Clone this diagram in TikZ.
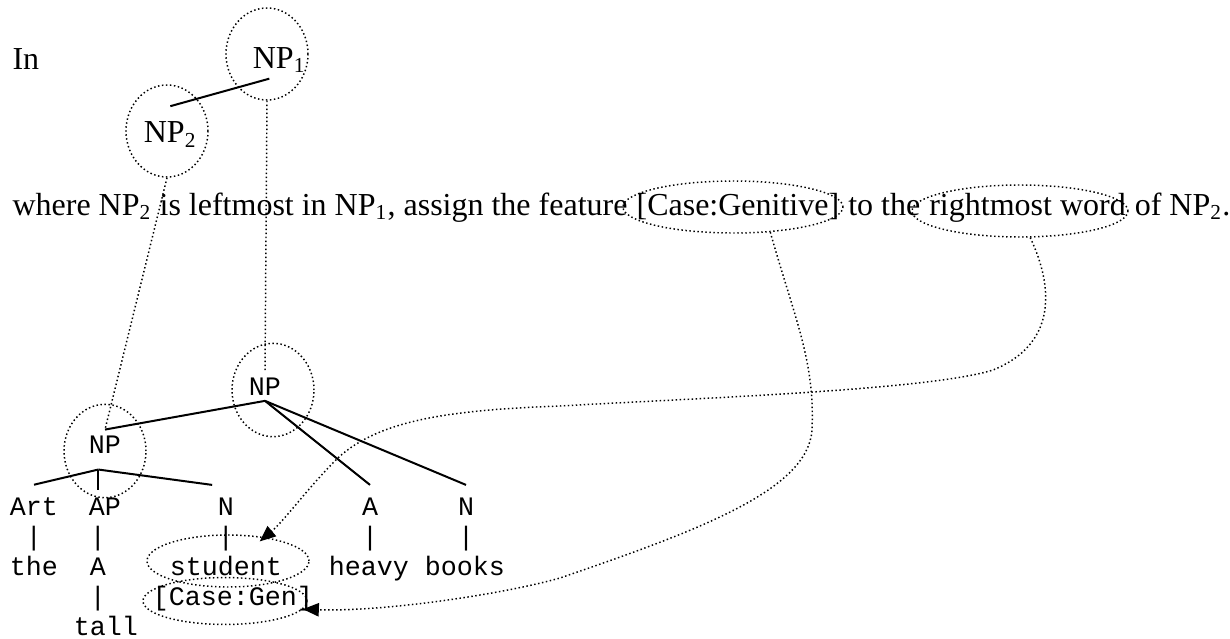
\documentclass[tikz,border=0pt]{standalone}
\usepackage{fontspec}
\setmainfont{Liberation Serif}
\setmonofont{Liberation Mono}
\usetikzlibrary{arrows.meta,positioning,shapes.geometric}
\tikzset{
  ringbox/.style={ellipse,draw,line width=0.55pt,dash pattern=on 0.55pt off 0.95pt,inner sep=0pt},
  treeline/.style={line width=0.75pt},
  dotflow/.style={line width=0.55pt,dash pattern=on 0.55pt off 0.95pt},
  featflow/.style={dotflow,-{Triangle[length=6pt,width=5pt]}},
  rmtext/.style={font=\fontsize{12}{14}\selectfont,inner sep=2pt,anchor=base west},
  inline/.style={rmtext,inner sep=0pt},
  catnode/.style={font=\ttfamily\fontsize{10}{11}\selectfont,inner sep=2pt,anchor=base},
  leafnode/.style={catnode,inner ysep=4.5pt}
}
\begin{document}
\begin{tikzpicture}[x=0.375pt,y=-0.375pt]
    \useasboundingbox (0,0) rectangle (1230,639);

    % rule: the two NPs
    \node[inline] (intro) at (12,69) {In};
    \node[rmtext] (np1) at (247,68) {NP\textsubscript{1}};
    \node[rmtext] (np2) at (138,143) {NP\textsubscript{2}};
    \node[ringbox,minimum width=30.75pt,minimum height=34.5pt] (ringNPone) at (267,54) {};
    \node[ringbox,minimum width=30.75pt,minimum height=34.5pt] (ringNPtwo) at (167,131) {};
    \draw[treeline] ([xshift=-3.75pt]np1.south) -- ([yshift=3.75pt]np2.north);

    % rule: the sentence
    \node[inline] (sentA) at (12,215)
      {where NP\textsubscript{2} is leftmost in NP\textsubscript{1}, assign the feature};
    \node[inline] (caseGen) at ([xshift=3pt]sentA.base east) {[Case:Genitive]};
    \node[inline] (sentB) at ([xshift=3pt]caseGen.base east) {to the};
    \node[inline] (rightWord) at ([xshift=3pt]sentB.base east) {rightmost word};
    \node[inline] (sentC) at ([xshift=3pt]rightWord.base east) {of NP\textsubscript{2}.};
    \node[ringbox,minimum width=82.5pt,minimum height=19.5pt] (ringCase) at (733,207) {};
    \node[ringbox,minimum width=81pt,minimum height=19.5pt] (ringRight) at (1020,211) {};

    % tree
    \node[catnode] (npUp) at (265,395) {NP};
    \node[catnode] (npLow) at (105,453) {NP};
    \node[ringbox,minimum width=30.75pt,minimum height=35pt] (ringUp) at (273,390) {};
    \node[ringbox,minimum width=30.75pt,minimum height=35pt] (ringLow) at (105,451) {};

    \node[leafnode] (catArt) at (34,515) {Art};
    \node[leafnode] (catAP) at (105,515) {AP};
    \node[leafnode] (catN) at (226,515) {N};
    \node[leafnode] (catA) at (370,515) {A};
    \node[leafnode] (catNb) at (466,515) {N};

    \node[catnode] (barArt) at (34,545) {|};
    \node[catnode] (barAP) at (98,545) {|};
    \node[catnode] (barN) at (226,545) {|};
    \node[catnode] (barA) at (370,545) {|};
    \node[catnode] (barNb) at (466,545) {|};

    \node[catnode] (wordThe) at (34,575) {the};
    \node[catnode] (wordA) at (98,575) {A};
    \node[catnode] (wordStudent) at (226,575) {student};
    \node[catnode] (wordHeavy) at (369,575) {heavy};
    \node[catnode] (wordBooks) at (465,575) {books};

    \node[catnode] (barTall) at (98,605) {|};
    \node[catnode] (featGen) at (233,605) {[Case:Gen]};
    \node[catnode] (wordTall) at (106,635) {tall};

    \node[ringbox,minimum width=60.75pt,minimum height=19.5pt] (ringStudent) at (228,561) {};
    \node[ringbox,minimum width=61.5pt,minimum height=17.6pt] (ringGen) at (225,601) {};

    \coordinate (brUp) at (npUp.south);
    \coordinate (brLow) at ([xshift=-2.5pt,yshift=-4pt]npLow.south);
    \draw[treeline] (brUp) -- (npLow.north);
    \draw[treeline] (brUp) -- (catA.north);
    \draw[treeline] (brUp) -- (catNb.north);
    \draw[treeline] (brLow) -- (catArt.north);
    \draw[treeline] (brLow) -- ([yshift=-2pt]brLow |- catAP.north);
    \draw[treeline] (brLow) -- (catN.north west);

    % links from rule to tree
    \draw[dotflow] (ringNPone.south) -- (npUp.north);
    \draw[dotflow] (ringNPtwo.south) -- (npLow.north);
    \draw[featflow,shorten >=-2.5pt] (ringRight.-69) .. controls (1055,290) and (1055,345) .. (993,370)
      .. controls (930,390) and (700,398) .. (560,406)
      .. controls (450,410) and (380,420) .. (339,457)
      .. controls (310,485) and (285,520) .. (ringStudent.33);
    \draw[featflow] (ringCase.-34) .. controls (795,320) and (815,360) .. (812,430)
      .. controls (808,490) and (700,530) .. (560,578)
      .. controls (500,595) and (380,612) .. (ringGen.-6);
\end{tikzpicture}
\end{document}
